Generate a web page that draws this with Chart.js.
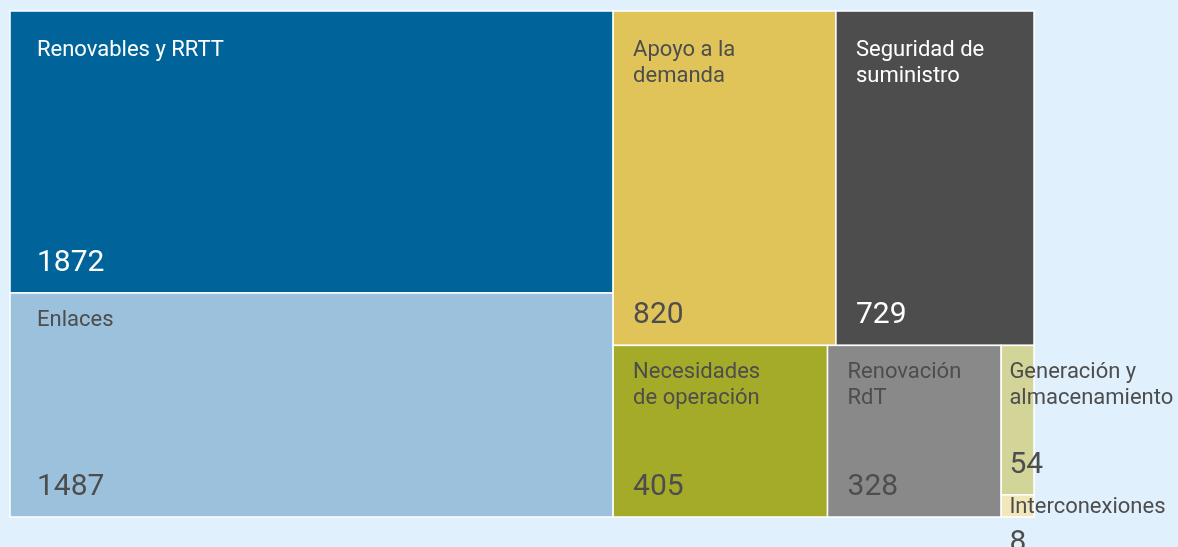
<!DOCTYPE html>
<html lang="es">
<head>
<meta charset="utf-8">
<title>Inversiones por categoría</title>
<script src="https://cdn.jsdelivr.net/npm/chart.js@4.4.1/dist/chart.umd.min.js"></script>
<style>
  html,body{margin:0;padding:0;background:#e0f1fd;}
  .wrap{position:relative;width:1178px;height:547px;}
</style>
</head>
<body>
<div class="wrap"><canvas id="treeChart"></canvas></div>
<script>
const categories = ['Renovables y RRTT','Enlaces','Apoyo a la\ndemanda','Seguridad de\nsuministro','Necesidades\nde operación','Renovación\nRdT','Generación y\nalmacenamiento','Interconexiones'];
const values = [1872,1487,820,729,405,328,54,8];

const cellColors = ['#00649a','#9cc1dc','#e0c45a','#4d4d4d','#a4ab28','#898989','#d2d597','#f2e7b8'];
const textColors = ['#ffffff','#4d4d4d','#4d4d4d','#ffffff','#4d4d4d','#4d4d4d','#4d4d4d','#4d4d4d'];
const PHI = (1 + Math.sqrt(5)) / 2;

// squarify (golden ratio, like d3) in scale units; kx/ky = pixels per unit so ratios are the on-screen ones
function squarify(items, x0, y0, x1, y1, kx, ky){
  const out = [];
  let value = items.reduce((s,i)=> s + i.value, 0);
  let i0 = 0;
  while(i0 < items.length){
    const dx = (x1-x0)*kx, dy = (y1-y0)*ky;
    let i1 = i0;
    let sum = items[i1++].value, minV = sum, maxV = sum;
    const alpha = Math.max(dy/dx, dx/dy) / (value * PHI);
    let beta = sum*sum*alpha;
    let minRatio = Math.max(maxV/beta, beta/minV);
    for(; i1 < items.length; i1++){
      const v = items[i1].value;
      const s2 = sum + v;
      const mn = Math.min(minV, v), mx = Math.max(maxV, v);
      beta = s2*s2*alpha;
      const r = Math.max(mx/beta, beta/mn);
      if(r > minRatio) break;
      sum = s2; minV = mn; maxV = mx; minRatio = r;
    }
    const row = items.slice(i0, i1);
    if(dx < dy){
      // row laid across the top
      const yb = y0 + (y1-y0)*sum/value;
      let x = x0;
      row.forEach(it => { const xe = x + (x1-x0)*it.value/sum; out.push({...it, x0:x, x1:xe, y0:y0, y1:yb}); x = xe; });
      y0 = yb;
    } else {
      // column laid down the left side
      const xb = x0 + (x1-x0)*sum/value;
      let y = y0;
      row.forEach(it => { const ye = y + (y1-y0)*it.value/sum; out.push({...it, x0:x0, x1:xb, y0:y, y1:ye}); y = ye; });
      x0 = xb;
    }
    value -= sum; i0 = i1;
  }
  return out;
}

const treemapPlugin = {
  id:'treemap',
  beforeDraw(chart){
    const { ctx, width, height } = chart;
    ctx.save();
    ctx.fillStyle = '#e0f1fd';
    ctx.fillRect(0, 0, width, height);
    ctx.restore();
  },
  afterDatasetsDraw(chart){
    const { ctx, chartArea:a, scales:{ x, y } } = chart;
    const kx = a.width / (x.max - x.min), ky = a.height / (y.max - y.min);
    const items = values.map((v,i)=> ({ value:v, label:categories[i], i }));
    const cells = squarify(items, x.min, y.min, x.max, y.max, kx, ky).map(c => {
      const l = x.getPixelForValue(c.x0), r = x.getPixelForValue(c.x1);
      const t = y.getPixelForValue(c.y0), b = y.getPixelForValue(c.y1);
      return { ...c, l, r, t, b, w:r-l, h:b-t };
    });

    ctx.save();
    cells.forEach(c => {
      ctx.fillStyle = cellColors[c.i];
      ctx.fillRect(c.l, c.t, c.w, c.h);
      ctx.strokeStyle = '#ffffff';
      ctx.lineWidth = 1.5;
      ctx.strokeRect(c.l, c.t, c.w, c.h);
    });

    // labels last so the ones spilling out of thin cells stay on top
    ctx.textAlign = 'left';
    ctx.textBaseline = 'alphabetic';
    cells.forEach(c => {
      const pad = Math.min(c.w > 400 ? 27 : 20, c.w/4);
      const topRow = Math.abs(c.t - a.top) < 1;
      let base = c.t + Math.min(33, c.h*0.8) + (topRow ? 12 : 0);
      ctx.fillStyle = textColors[c.i];
      ctx.font = '22px Roboto';
      const lines = c.label.split('\n');
      lines.forEach((ln, k) => ctx.fillText(ln, c.l + pad, base + k*26));
      const lastBase = base + (lines.length-1)*26;
      const vBase = Math.max(c.b - 22, lastBase + 38);
      ctx.font = '30px Roboto';
      ctx.fillText(String(c.value), c.l + pad, vBase);
    });
    ctx.restore();
  }
};

function onReady(){
  new Chart(document.getElementById('treeChart'), {
    type:'scatter',
    data:{ datasets:[{ data:[] }] },
    options:{
      responsive:true,
      maintainAspectRatio:false,
      animation:false,
      layout:{ padding:{ left:10, top:11, right:144, bottom:30 } },
      scales:{
        x:{ type:'linear', min:0, max:1, display:false },
        y:{ type:'linear', min:0, max:1, reverse:true, display:false }
      },
      plugins:{ legend:{ display:false }, tooltip:{ enabled:false } }
    },
    plugins:[treemapPlugin]
  });
}

document.addEventListener('DOMContentLoaded', onReady);
</script>
</body>
</html>
